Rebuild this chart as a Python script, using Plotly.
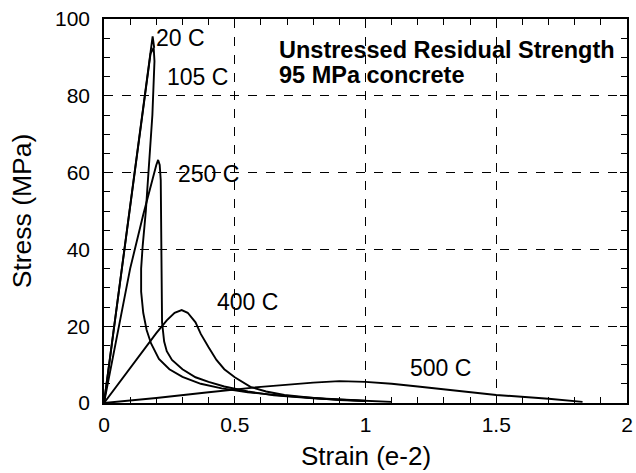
import plotly.graph_objects as go

# ---- data (strain in e-2, stress in MPa) ----
strain_20 = [0, 0.186, 0.192]
stress_20 = [0, 95.5, 92.5]

strain_105 = [0, 0.178, 0.19, 0.193, 0.185, 0.172, 0.16, 0.148, 0.142, 0.142, 0.15, 0.163,
              0.18, 0.21, 0.25, 0.3, 0.37, 0.45, 0.55, 0.7, 0.85, 1.0]
stress_105 = [0, 91, 92.5, 89, 75, 62, 50, 41, 35, 29, 23.5, 19,
              15.5, 11.5, 8.8, 6.8, 5.0, 3.8, 2.8, 1.8, 1.1, 0.6]

strain_250 = [0, 0.05, 0.1, 0.15, 0.18, 0.2, 0.207, 0.213, 0.217, 0.218, 0.219, 0.222,
              0.23, 0.24, 0.26, 0.3, 0.35, 0.4, 0.46, 0.55, 0.65, 0.8, 0.95, 1.1]
stress_250 = [0, 18, 35, 49, 57, 62, 63.3, 62, 58, 45, 30, 21,
              16, 13.5, 11.2, 8.8, 6.7, 5.5, 4.3, 3.0, 2.0, 1.2, 0.7, 0.3]

strain_400 = [0, 0.1, 0.2, 0.24, 0.27, 0.297, 0.32, 0.35, 0.37, 0.4, 0.43, 0.46,
              0.5, 0.56, 0.62, 0.69, 0.8, 0.9, 1.0]
stress_400 = [0, 9.2, 18.2, 21.5, 23.5, 24.2, 23.5, 21, 18, 14.5, 11.2, 8.8,
              6.7, 4.2, 3.0, 2.1, 1.3, 0.8, 0.5]

strain_500 = [0, 0.2, 0.4, 0.6, 0.8, 0.9, 1.0, 1.1, 1.2, 1.35, 1.5, 1.7, 1.83]
stress_500 = [0, 1.3, 2.8, 4.2, 5.3, 5.7, 5.5, 5.0, 4.3, 3.2, 2.1, 1.1, 0.3]

curve_labels = ["20 C", "105 C", "250 C", "400 C", "500 C"]
label_x = [0.294, 0.358, 0.399, 0.549, 1.288]
label_y = [95.0, 84.8, 59.6, 26.2, 9.0]

x_ticks = [0, 0.5, 1, 1.5, 2]
x_tick_text = ["0", "0.5", "1", "1.5", "2"]
y_ticks = [0, 20, 40, 60, 80, 100]

x_title = "Strain (e-2)"
y_title = "Stress (MPa)"
title_lines = ["Unstressed Residual Strength", "95 MPa concrete"]

FONT = "Liberation Sans, Arial, sans-serif"

fig = go.Figure()
for sx, sy in [(strain_20, stress_20), (strain_105, stress_105), (strain_250, stress_250),
               (strain_400, stress_400), (strain_500, stress_500)]:
    fig.add_trace(go.Scatter(x=sx, y=sy, mode="lines",
                             line=dict(color="black", width=1.9),
                             showlegend=False, hoverinfo="skip"))

for t, lx, ly in zip(curve_labels, label_x, label_y):
    fig.add_annotation(x=lx, y=ly, text=t, showarrow=False,
                       font=dict(family=FONT, size=23, color="black"),
                       xanchor="center", yanchor="middle")

fig.add_annotation(x=0.66, y=92.0, text="<b>" + title_lines[0] + "</b>", showarrow=False,
                   font=dict(family=FONT, size=23.5, color="black"),
                   xanchor="left", yanchor="middle")
fig.add_annotation(x=0.66, y=85.5, text="<b>" + title_lines[1] + "</b>", showarrow=False,
                   font=dict(family=FONT, size=23.5, color="black"),
                   xanchor="left", yanchor="middle")

# x-axis title placed just below the tick labels
fig.add_annotation(xref="paper", yref="paper", x=0.5, y=-0.138, text=x_title, showarrow=False,
                   font=dict(family=FONT, size=26, color="black"),
                   xanchor="center", yanchor="middle")

axis_common = dict(
    showline=True, linecolor="black", linewidth=1.6, mirror="ticks",
    ticks="inside", ticklen=7, tickcolor="black", tickwidth=1.2,
    showgrid=True, gridcolor="black", gridwidth=1.1, griddash="dash",
    zeroline=False, automargin=False,
    tickfont=dict(family=FONT, size=21, color="black"),
)

fig.update_xaxes(range=[0, 2], tickvals=x_ticks, ticktext=x_tick_text, ticklabelstandoff=2,
                 minor=dict(dtick=0.1, ticks="inside", ticklen=6, tickcolor="black", showgrid=False),
                 **axis_common)
fig.update_yaxes(range=[0, 100], tickvals=y_ticks, ticklabelstandoff=8,
                 minor=dict(dtick=5, ticks="inside", ticklen=6, tickcolor="black", showgrid=False),
                 title=dict(text=y_title, font=dict(family=FONT, size=26.5, color="black"), standoff=16),
                 **axis_common)

fig.update_layout(width=636, height=473, margin=dict(l=104, r=9, t=19, b=70),
                  plot_bgcolor="white", paper_bgcolor="white")

fig.write_html("out.html", config={"displayModeBar": False},
               post_script="document.body.style.margin='0';document.body.style.padding='0';")
